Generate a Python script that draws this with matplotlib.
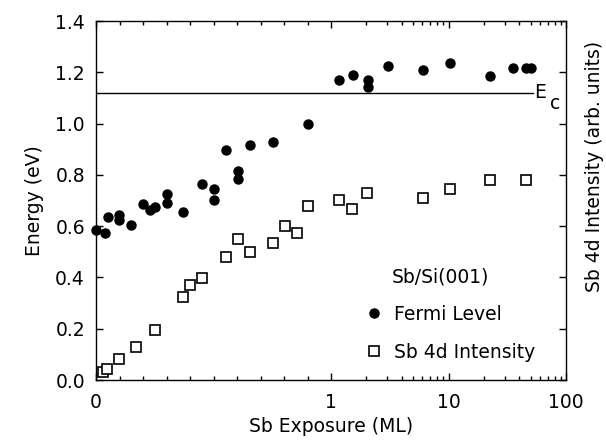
import numpy as np
import matplotlib
matplotlib.use("Agg")
import matplotlib.pyplot as plt

plt.rcParams['font.family'] = ['DejaVu Sans']
FS = 13.5
plt.rcParams['font.size'] = FS

# Fermi level (filled circles)
fermi_x = [0.0, 0.038, 0.05, 0.099, 0.099, 0.149, 0.199, 0.23, 0.251, 0.30, 0.30,
           0.371, 0.452, 0.502, 0.502, 0.553, 0.604, 0.604, 0.654, 0.753, 0.903,
           1.18, 1.53, 2.05, 2.05, 3.07, 6.1, 10.3, 22.5, 35.6, 45.7, 50.7]
fermi_e = [0.585, 0.575, 0.634, 0.644, 0.625, 0.604, 0.685, 0.664, 0.673, 0.724, 0.691,
           0.654, 0.763, 0.744, 0.703, 0.895, 0.816, 0.783, 0.918, 0.927, 0.997,
           1.170, 1.190, 1.170, 1.144, 1.226, 1.207, 1.235, 1.187, 1.216, 1.216, 1.216]

# Sb 4d intensity (open squares)
sb_x = [0.031, 0.048, 0.099, 0.17, 0.25, 0.371, 0.401, 0.452, 0.552, 0.603, 0.654,
        0.752, 0.803, 0.854, 0.903, 1.17, 1.52, 2.04, 6.1, 10.3, 22.5, 45.7]
sb_i = [0.033, 0.044, 0.082, 0.128, 0.196, 0.325, 0.370, 0.397, 0.481, 0.549, 0.499,
        0.536, 0.600, 0.575, 0.680, 0.702, 0.667, 0.729, 0.709, 0.745, 0.778, 0.778]

ec_value = 1.12
x_major = [0, 1, 10, 100]
x_major_labels = ['0', '1', '10', '100']
y_ticks = [0.0, 0.2, 0.4, 0.6, 0.8, 1.0, 1.2, 1.4]


def fwd(x):
    x = np.asarray(x, dtype=float)
    return np.where(x <= 1, 2 * x, 2 + np.log10(np.maximum(x, 1.0)))


def inv(t):
    t = np.asarray(t, dtype=float)
    return np.where(t <= 2, t / 2, 10 ** (np.maximum(t, 2.0) - 2))


fig = plt.figure(figsize=(6.06, 4.44), dpi=100)
ax = fig.add_axes([96 / 606, 1 - 380 / 444, 470 / 606, 359 / 444])
ax.set_xscale('function', functions=(fwd, inv))
ax.set_xlim(0, 100)
ax.set_ylim(0, 1.4)

ax.plot(fermi_x, fermi_e, 'o', color='black', markersize=6.5, label='Fermi Level',
        clip_on=False, zorder=3)
ax.plot(sb_x, sb_i, 's', markerfacecolor='white', markeredgecolor='black',
        markeredgewidth=1.2, markersize=7, label='Sb 4d Intensity', clip_on=False, zorder=3)

ax.axhline(ec_value, xmin=0, xmax=0.93, color='black', linewidth=1.0)
ax.text(0.932, ec_value, 'E', transform=ax.get_yaxis_transform(), ha='left', va='center',
        fontsize=FS)
ax.text(0.966, ec_value - 0.04, 'c', transform=ax.get_yaxis_transform(), ha='left',
        va='center', fontsize=FS)

minor = [0.1 * k for k in range(1, 10)] + list(range(2, 10)) + list(range(20, 100, 10))
ax.set_xticks(x_major)
ax.set_xticklabels(x_major_labels)
ax.set_xticks(minor, minor=True)
ax.set_yticks(y_ticks)
ax.set_yticklabels([f'{v:.1f}' for v in y_ticks])

ax.tick_params(which='both', direction='in', top=True, right=True, width=1.0, labelsize=FS)
ax.tick_params(which='major', length=5, pad=8)
ax.tick_params(which='minor', length=3)
ax.tick_params(axis='x', which='major', pad=9)
for s in ax.spines.values():
    s.set_linewidth(1.0)

ax.set_ylabel('Energy (eV)', fontsize=FS, labelpad=8)
ax.set_xlabel('Sb Exposure (ML)', fontsize=FS, labelpad=4)
fig.text(594 / 606, 1 - 166 / 444, 'Sb 4d Intensity (arb. units)', rotation=90,
         ha='center', va='center', fontsize=FS)

ax.text(392 / 606, 1 - 277 / 444, 'Sb/Si(001)', transform=fig.transFigure,
        ha='left', va='center', fontsize=FS)
leg = ax.legend(loc='lower left', bbox_to_anchor=(353 / 606, 1 - 371 / 444),
                bbox_transform=fig.transFigure, frameon=False, fontsize=FS,
                handlelength=1.2, handletextpad=0.5, labelspacing=1.0, borderpad=0)

fig.savefig('out.png', dpi=100)
